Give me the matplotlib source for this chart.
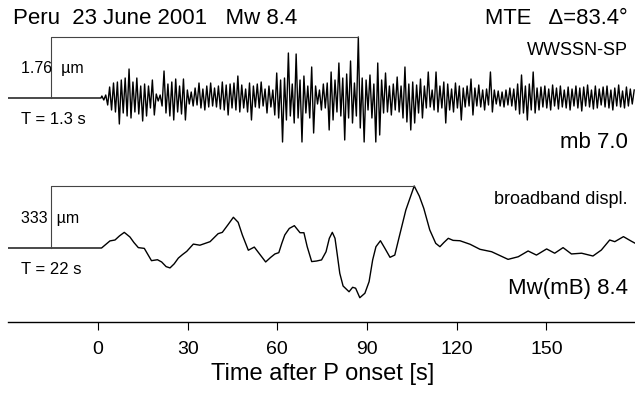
import numpy as np
import matplotlib
matplotlib.use("Agg")
import matplotlib.pyplot as plt
from matplotlib import font_manager as fm

# ---- data ----
# short-period WWSSN-SP trace: successive extrema (digitizer counts), one every 0.65 s
sp_onset = 1.0
sp_dt = 0.65
sp_counts = [
    2, -2, 3, -7, 11, -12, 15, -14, 16, -26, 18, -15, 20, -18, 29, -20, 16, -14, 20, -16,
    12, -23, 14, -18, 12, -10, 18, -17, 4, -3, 3, -8, 27, -15, 14, -18, 16, -22, 19, -14,
    12, -16, 19, -22, 8, -6, 6, -8, 10, -7, 15, -10, 9, -12, 12, -9, 15, -8, 10, -9,
    12, -11, 16, -12, 13, -17, 14, -10, 15, -12, 22, -14, 13, -10, 9, -14, 15, -22, 12, -9,
    14, -10, 16, -8, 9, -15, 12, -9, 8, -17, 25, -20, 18, -44, 20, -22, 45, -18, 14, -25,
    44, -20, 18, -44, 22, -15, 12, -20, 31, -35, 12, -6, 8, -12, 14, -10, 15, -32, 26, -22,
    18, -14, 35, -18, 20, -42, 24, -20, 37, -25, 15, -18, 61, -30, 20, -44, 18, -12, 23, -20,
    14, -44, 35, -37, 18, -15, 25, -14, 12, -17, 14, -12, 21, -14, 12, -20, 31, -24, 14, -32,
    16, -25, 13, -15, 19, -20, 12, -10, 26, -9, 8, -12, 26, -14, 12, -10, 16, -25, 14, -12,
    9, -14, 15, -10, 12, -22, 10, -9, 12, -8, 19, -17, 10, -8, 13, -9, 8, -12, 9, -7,
    26, -14, 8, -6, 7, -8, 6, -9, 8, -7, 10, -8, 9, -12, 14, -16, 23, -15, 12, -22,
    14, -12, 26, -15, 10, -12, 11, -9, 12, -10, 9, -12, 13, -8, 10, -11, 12, -9, 8, -10,
    11, -12, 9, -8, 12, -10, 10, -13, 11, -8, 13, -9, 8, -11, 12, -10, 9, -7, 11, -9,
    12, -10, 8, -12, 10, -8, 13, -9, 7, -10, 11, -8, 9, -6, 8,
]
sp_amp_um = 1.76
sp_period = 1.3

# broadband displacement (micrometres)
bb_t = [-30, 1.2, 4.0, 5.7, 7.2, 8.8, 10.7, 12.0, 13.5, 15.5, 16.7, 17.9, 19.9, 21.3,
        22.8, 24.1, 25.5, 26.9, 28.3, 29.7, 31.9, 34.1, 37.5, 40.2, 41.6, 43.5, 45.3,
        46.9, 48.3, 50.3, 52.3, 56.1, 57.8, 59.2, 60.5, 61.5, 62.5, 64.0, 65.7, 67.6,
        68.9, 70.0, 71.5, 73.1, 74.8, 76.3, 77.4, 78.4, 79.3, 80.0, 80.9, 82.0, 84.0,
        85.2, 86.2, 87.6, 89.3, 90.7, 91.9, 93.0, 94.5, 96.0, 97.7, 99.3, 100.8, 103.0,
        105.8, 107.5, 109.0, 111.0, 113.0, 114.4, 115.7, 117.2, 118.8, 121.1, 124.5,
        127.8, 131.7, 137.2, 140.6, 143.9, 146.7, 150.1, 152.8, 155.6, 158.4, 161.8,
        165.6, 168.4, 171.2, 172.9, 175.8, 178.5, 180.0]
bb_um = [0, 0, 38, 43, 65, 84, 59, 30, 2, -2, -35, -68, -63, -75,
         -100, -107, -85, -54, -35, -18, 21, 15, 34, 77, 84, 125, 165,
         138, 70, -12, 5, -75, -50, -32, -25, 25, 70, 105, 120, 82,
         82, 7, -73, -70, -64, -20, 52, 84, 52, -29, -136, -204, -235,
         -211, -216, -267, -243, -181, -64, 7, 39, -2, -50, -38, 61, 204,
         333, 279, 213, 97, 25, 7, 29, 52, 41, 39, 20,
         -7, -20, -61, -47, -16, -38, -5, -28, 2, -32, -28,
         -43, -11, 43, 34, 61, 36, 23]
bb_amp_um = 333
bb_period = 22

xticks = [0, 30, 60, 90, 120, 150]

# ---- layout (pixel rows from top) ----
W, H = 635, 396
sp_base, sp_top = 98, 37
bb_base, bb_top = 248, 186
axis_y = 322
bar_t = -15.7

try:
    fm.findfont("Liberation Sans Narrow", fallback_to_default=False)
    narrow = "Liberation Sans Narrow"
except Exception:
    narrow = "Liberation Sans"
plt.rcParams["font.family"] = ["Liberation Sans", "DejaVu Sans"]

fig = plt.figure(figsize=(W / 100, H / 100), dpi=100, facecolor="white")
ax = fig.add_axes([8.3 / W, 0, (636 - 8.3) / W, 1])
ax.set_xlim(-30, 180)
ax.set_ylim(H, 0)
for s in ["top", "left", "right"]:
    ax.spines[s].set_visible(False)
ax.spines["bottom"].set_position(("data", axis_y))
ax.spines["bottom"].set_linewidth(1.0)
ax.set_yticks([])
ax.set_xticks(xticks)
ax.tick_params(axis="x", direction="out", length=6, width=0.8, pad=8,
               labelsize=14, labelfontfamily=narrow)
ax.set_xlabel("Time after P onset [s]", fontsize=17, family=narrow, labelpad=3)

# short-period trace
counts = np.array(sp_counts, dtype=float)
sp_t = np.concatenate([[-30, sp_onset], 1.3 + sp_dt * np.arange(len(counts))])
sp_y = np.concatenate([[0, 0], counts])
ax.plot(sp_t, sp_base - sp_y / counts.max() * (sp_base - sp_top), color="black", lw=1.0)
peak_t = sp_t[np.argmax(sp_y)]
ax.plot([bar_t, bar_t, peak_t], [sp_base, sp_top, sp_top], color="#444444", lw=0.8)

# broadband trace
bb = np.array(bb_um, dtype=float)
ax.plot(bb_t, bb_base - bb / bb_amp_um * (bb_base - bb_top), color="black", lw=1.0,
        solid_joinstyle="round")
bb_peak = bb_t[int(np.argmax(bb))]
ax.plot([bar_t, bar_t, bb_peak], [bb_base, bb_top, bb_top], color="#444444", lw=0.8)

def label(x, y, s, size, ha="left"):
    ax.text(x, y, s, fontsize=size, ha=ha, va="baseline")

xr = 177.2  # right edge of the text column
xl = -25.6
label(xl - 2.9, 24, "Peru  23 June 2001   Mw 8.4", 16)
label(xr, 24, "MTE   \u0394=83.4\u00b0", 15.8, ha="right")
label(xr, 55, "WWSSN-SP", 13, ha="right")
label(xl, 73, "1.76  \u00b5m", 11.5)
label(xl, 124, "T = %.1f s" % sp_period, 12)
label(xr, 148, "mb 7.0", 16, ha="right")
label(xr, 204, "broadband displ.", 13, ha="right")
label(xl, 223, "%d  \u00b5m" % bb_amp_um, 11.5)
label(xl, 274, "T = %d s" % bb_period, 12)
label(xr, 294, "Mw(mB) 8.4", 16, ha="right")

fig.savefig("out.png", dpi=100, facecolor="white")
